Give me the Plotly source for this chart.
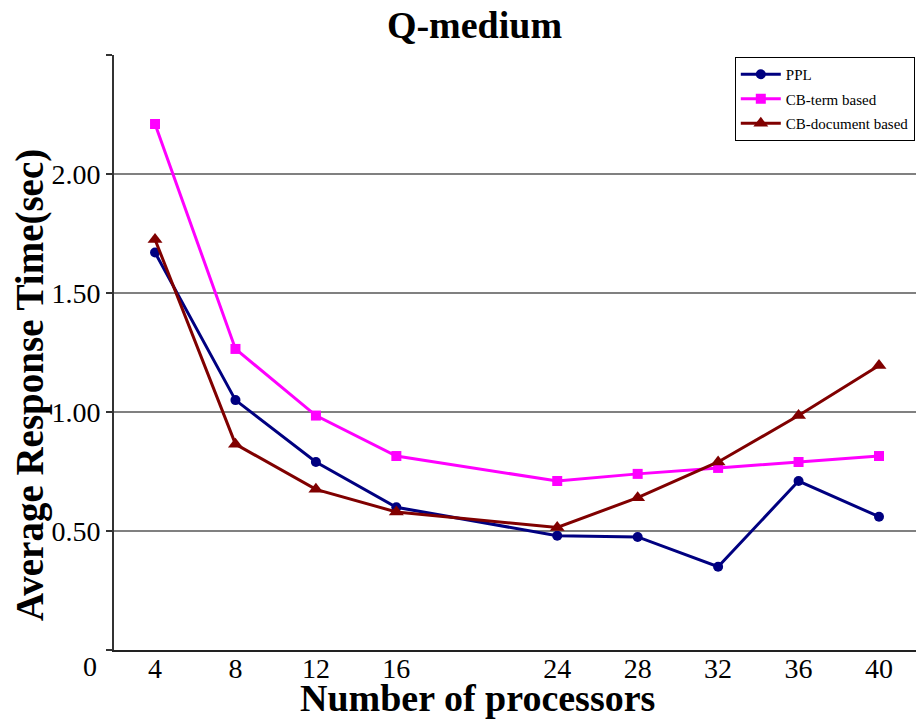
import plotly.graph_objects as go

processors = [4, 8, 12, 16, 24, 28, 32, 36, 40]
ppl = [1.67, 1.05, 0.79, 0.60, 0.48, 0.475, 0.35, 0.71, 0.56]
cb_term = [2.21, 1.265, 0.985, 0.815, 0.71, 0.74, 0.765, 0.79, 0.815]
cb_doc = [1.725, 0.865, 0.675, 0.58, 0.515, 0.64, 0.79, 0.985, 1.195]
y_ticks = [0, 0.5, 1.0, 1.5, 2.0, 2.5]
y_ticktext = ["", "0.50", "1.00", "1.50", "2.00", ""]

FONT = "Liberation Serif, Times New Roman, serif"

fig = go.Figure()
series = [
    ("PPL", ppl, "#000080", "circle", 10),
    ("CB-term based", cb_term, "#FF00FF", "square", 10),
    ("CB-document based", cb_doc, "#800000", "triangle-up", 13),
]
for name, vals, color, sym, size in series:
    fig.add_trace(go.Scatter(
        x=processors, y=vals, name=name, mode="lines+markers",
        line=dict(color=color, width=3),
        marker=dict(symbol=sym, size=size, color=color),
        legendgroup=name,
    ))

fig.update_layout(
    width=916, height=719,
    margin=dict(l=114, r=0, t=55, b=69),
    paper_bgcolor="white", plot_bgcolor="white",
    font=dict(family=FONT, color="black"),
    title=dict(text="<b>Q-medium</b>", x=0.518, xanchor="center", y=0.965, yanchor="middle",
               font=dict(size=38, family=FONT, color="black")),
    showlegend=True,
    legend=dict(x=0.9985, xanchor="right", y=0.9965, yanchor="top",
                bgcolor="white", bordercolor="black", borderwidth=1,
                font=dict(size=15, family=FONT, color="black"),
                tracegroupgap=2, itemwidth=40),
)

fig.update_xaxes(
    range=[1.96, 41.84], tickvals=processors, ticktext=[str(p) for p in processors],
    showgrid=False, zeroline=False, showline=True, linecolor="#222", linewidth=2,
    ticks="", tickfont=dict(size=28, family=FONT, color="black"), ticklabelstandoff=-8,
)
fig.update_yaxes(
    range=[0, 2.5], tickvals=y_ticks, ticktext=y_ticktext,
    showgrid=True, gridcolor="#808080", gridwidth=1.5, zeroline=False,
    showline=True, linecolor="#333", linewidth=2,
    ticks="outside", ticklen=6, tickcolor="#333", tickwidth=1.5,
    tickfont=dict(size=28, family=FONT, color="black"), ticklabelstandoff=0,
)

fig.add_annotation(text="0", xref="paper", yref="paper", x=(90 - 114) / 802, y=(650 - 666) / 595,
                   xanchor="center", yanchor="middle",
                   showarrow=False, font=dict(size=28, family=FONT, color="black"))
fig.add_annotation(text="<b>Number of processors</b>", xref="paper", yref="paper",
                   x=(477 - 114) / 802, y=(650 - 698) / 595, xanchor="center", yanchor="middle",
                   showarrow=False, font=dict(size=38, family=FONT, color="black"))
fig.add_annotation(text="<b>Average Response Time(sec)</b>", xref="paper", yref="paper",
                   x=(30 - 114) / 802, y=(650 - 385) / 595, xanchor="center", yanchor="middle",
                   showarrow=False, textangle=-90,
                   font=dict(size=39, family=FONT, color="black"))

fig.write_html("out.html", post_script="document.body.style.margin='0';",
               config={"displayModeBar": False})
